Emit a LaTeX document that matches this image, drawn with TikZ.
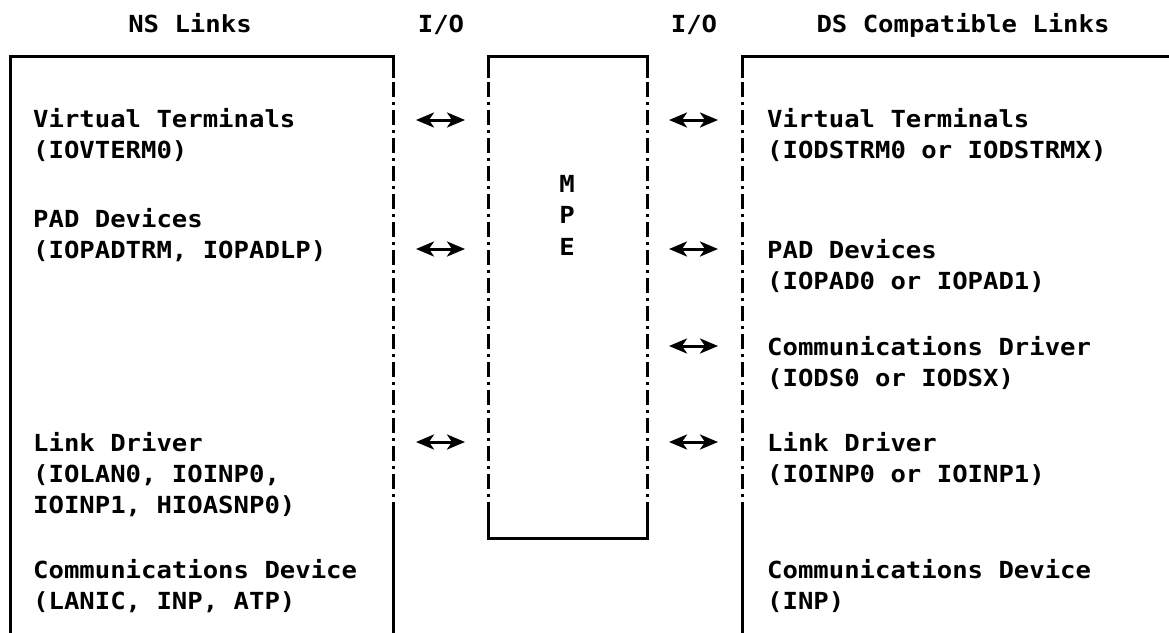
\documentclass[tikz,border=0pt]{standalone}
\usepackage{fontspec}
\usetikzlibrary{arrows.meta}
\newfontfamily\dmono[FakeStretch=1.09]{DejaVu Sans Mono Bold}
\begin{document}
\begin{tikzpicture}[x=1pt,y=-1pt,
  txt/.style={font=\dmono\fontsize{23.5}{31}\selectfont, inner sep=0pt, anchor=base west},
  ttl/.style={font=\dmono\fontsize{23.5}{31}\selectfont, inner sep=0pt, anchor=base},
  solidline/.style={line width=3pt, line cap=butt, line join=miter},
  dashdotline/.style={line width=3pt, dash pattern=on 15pt off 5pt on 3pt off 5pt, dash phase=-4pt},
  io/.style={line width=3pt, arrows={Stealth[length=18pt,width=15pt,inset=5pt]-Stealth[length=18pt,width=15pt,inset=5pt]}}]
\useasboundingbox (0,0) rectangle (1169,632);
\fill[white] (0,0) rectangle (1169,632);

% titles
\node[ttl] (tns) at (190,32) {NS Links};
\node[ttl] (tio1) at (441,32) {I/O};
\node[ttl] (tio2) at (694,32) {I/O};
\node[ttl] (tds) at (963,32) {DS Compatible Links};

% left box (NS Links)
\draw[solidline] (393,78) -- (393,56) -- (10,56) -- (10,634);
\draw[dashdotline] (393,78) -- (393,517);
\draw[solidline] (393,517) -- (393,634);

% MPE box
\draw[solidline] (488,78) -- (488,56) -- (647,56) -- (647,78);
\draw[dashdotline] (488,78) -- (488,517);
\draw[dashdotline] (647,78) -- (647,517);
\draw[solidline] (488,517) -- (488,538) -- (647,538) -- (647,517);
\node[font=\dmono\fontsize{23.5}{31.5}\selectfont, align=center, inner sep=0pt] (mpe) at (567,215) {M\\P\\E};

% right box (DS Compatible Links)
\draw[solidline] (742,78) -- (742,56) -- (1171,56);
\draw[dashdotline] (742,78) -- (742,517);
\draw[solidline] (742,517) -- (742,634);

% left column text
\node[txt] (nvt) at (33,127) {Virtual Terminals};
\node[txt] (nvt2) at (33,158) {(IOVTERM0)};
\node[txt] (npad) at (33,227) {PAD Devices};
\node[txt] (npad2) at (33,258) {(IOPADTRM, IOPADLP)};
\node[txt] (nld) at (33,451) {Link Driver};
\node[txt] (nld2) at (33,482) {(IOLAN0, IOINP0,};
\node[txt] (nld3) at (33,513) {IOINP1, HIOASNP0)};
\node[txt] (ncd) at (33,578) {Communications Device};
\node[txt] (ncd2) at (33,609) {(LANIC, INP, ATP)};

% right column text
\node[txt] (dvt) at (767,127) {Virtual Terminals};
\node[txt] (dvt2) at (767,158) {(IODSTRM0 or IODSTRMX)};
\node[txt] (dpad) at (767,258) {PAD Devices};
\node[txt] (dpad2) at (767,289) {(IOPAD0 or IOPAD1)};
\node[txt] (dcd) at (767,355) {Communications Driver};
\node[txt] (dcd2) at (767,386) {(IODS0 or IODSX)};
\node[txt] (dld) at (767,451) {Link Driver};
\node[txt] (dld2) at (767,482) {(IOINP0 or IOINP1)};
\node[txt] (ddev) at (767,578) {Communications Device};
\node[txt] (ddev2) at (767,609) {(INP)};

% arrow endpoints
\coordinate (la1) at (416,120); \coordinate (lb1) at (465,120);
\coordinate (la2) at (416,249); \coordinate (lb2) at (465,249);
\coordinate (la3) at (416,442); \coordinate (lb3) at (465,442);
\coordinate (ra1) at (669,120); \coordinate (rb1) at (718,120);
\coordinate (ra2) at (669,249); \coordinate (rb2) at (718,249);
\coordinate (ra3) at (669,346); \coordinate (rb3) at (718,346);
\coordinate (ra4) at (669,442); \coordinate (rb4) at (718,442);
\draw[io] (la1) -- (lb1);
\draw[io] (la2) -- (lb2);
\draw[io] (la3) -- (lb3);
\draw[io] (ra1) -- (rb1);
\draw[io] (ra2) -- (rb2);
\draw[io] (ra3) -- (rb3);
\draw[io] (ra4) -- (rb4);
\end{tikzpicture}
\end{document}
